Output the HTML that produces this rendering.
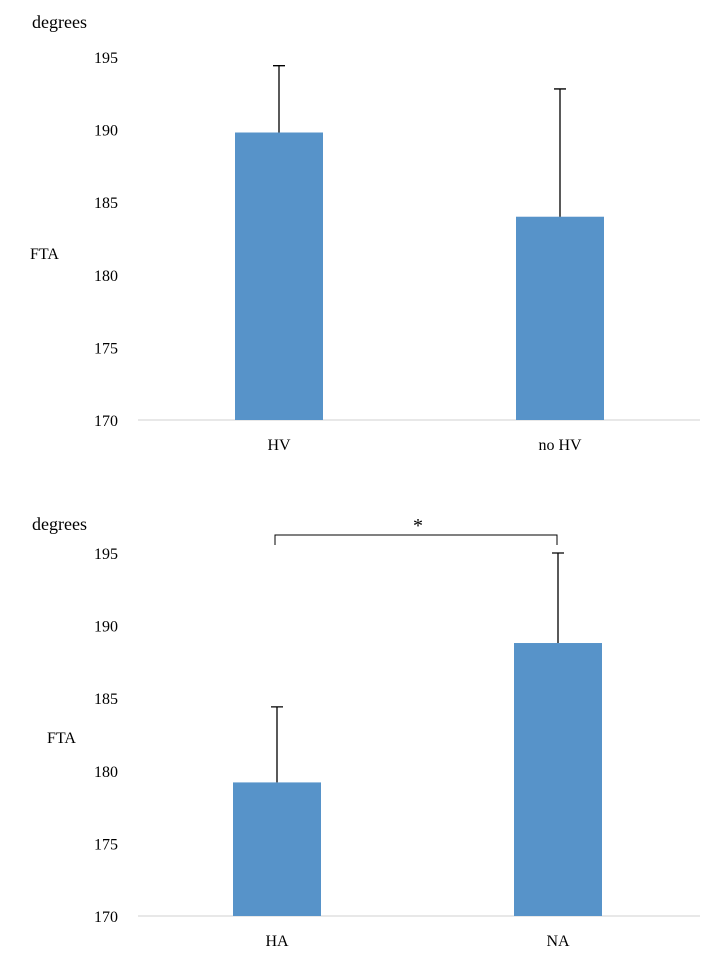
<!DOCTYPE html>
<html><head><meta charset="utf-8"><style>
body{margin:0;background:#fff;}
svg text{font-family:"Liberation Serif",serif;fill:#000;}
</style></head><body>
<svg id="c" width="721" height="965" xmlns="http://www.w3.org/2000/svg"></svg>
<script>
const ticks=[170,175,180,185,190,195];
const catsTop=["HV","no HV"];
const meansTop=[189.8,184.0];
const errTop=[4.6,8.8];
const catsBot=["HA","NA"];
const meansBot=[179.2,188.8];
const errBot=[5.2,6.2];
const NS="http://www.w3.org/2000/svg";
const svg=document.getElementById('c');
function mk(t,a,p){const e=document.createElementNS(NS,t);for(const k in a)e.setAttribute(k,a[k]);(p||svg).appendChild(e);return e;}
function panel(name,yBase,yTop,cats,means,errs,barX,catX,degY,ftaX,ftaY){
  const g=mk('g',{});
  
  
  const y=v=>yBase-(v-170)/(195-170)*(yBase-yTop);
  const ax=mk('line',{x1:138,x2:700,y1:yBase,y2:yBase,stroke:'#d0d0d0','stroke-width':1},g);
  
  ticks.forEach(t=>{const tx=mk('text',{x:118,y:y(t)+6,'text-anchor':'end','font-size':16},g);tx.textContent=t;
    });
  cats.forEach((c,i)=>{
    const b=mk('rect',{x:barX[i],y:y(means[i]),width:88,height:yBase-y(means[i]),fill:'#5793c9'},g);
    
    const cx=barX[i]+44,top=y(means[i]+errs[i]);
    const e=mk('path',{d:`M${cx} ${y(means[i])}V${top}M${cx-6} ${top}H${cx+6}`,stroke:'#000','stroke-width':1.3,fill:'none'},g);
    
    const l=mk('text',{x:catX[i],y:yBase+30,'text-anchor':'middle','font-size':16},g);l.textContent=c;
    
  });
  const d=mk('text',{x:32,y:degY,'font-size':18},g);d.textContent='degrees';
  
  const f=mk('text',{x:ftaX,y:ftaY,'font-size':16},g);f.textContent='FTA';
  
  return y;
}
panel('top-chart',420,57,catsTop,meansTop,errTop,[235,516],[279,560],28,30,259);
panel('bottom-chart',916,553,catsBot,meansBot,errBot,[233,514],[277,558],530,47,743);
const br=mk('path',{d:'M275 545V535H557V545',stroke:'#000','stroke-width':1,fill:'none'});

const s=mk('text',{x:418,y:532,'text-anchor':'middle','font-size':20});s.textContent='*';

</script>
</body></html>
